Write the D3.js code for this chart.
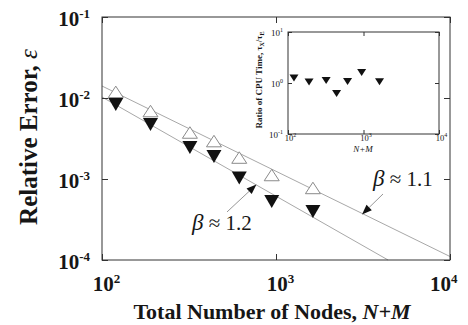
<!DOCTYPE html>
<html><head><meta charset="utf-8">
<script src="https://cdn.jsdelivr.net/npm/d3@7"></script>
<style>
html,body{margin:0;padding:0;background:#fff;}
svg{display:block;font-family:"Liberation Serif","Times New Roman",serif;}
svg text{font-family:"Liberation Serif","Times New Roman",serif;}
</style></head>
<body>
<svg id="chart" width="468" height="325"></svg>
<script>
// ---- data ----
const nodes      = [120, 190, 320, 440, 615, 945, 1630];
const errOpen    = [0.0119, 0.0069, 0.00375, 0.00294, 0.00184, 0.00112, 0.000775];
const errFilled  = [0.0083, 0.0047, 0.00245, 0.0019, 0.00103, 0.000527, 0.000397];
const cpuRatio   = [1.25, 1.05, 1.12, 0.62, 1.07, 1.61, 1.06];
const fitUpperN   = [100, 10000];
const fitUpperErr = [0.01406, 0.0001104];
const fitLowerN   = [100, 4406];
const fitLowerErr = [0.01028, 0.0001];
const mainXExp  = [2, 3, 4];
const mainYExp  = [-1, -2, -3, -4];
const insetXExp = [2, 3, 4];
const insetYExp = [1, 0, -1];
const betaLabels = ["1.1", "1.2"];

// ---- layout ----
const svg = d3.select("#chart");
const ink = "#161616";
const x = d3.scaleLog().domain([1e2, 1e4]).range([102, 450]);
const y = d3.scaleLog().domain([1e-4, 1e-1]).range([260, 17]);
const xi = d3.scaleLog().domain([1e2, 1e4]).range([288, 439]);
const yi = d3.scaleLog().domain([1e-1, 1e1]).range([134, 32]);

function tri(cx, cy, w, h, up) {
  return up
    ? `M${cx - w/2},${cy + h/2}L${cx + w/2},${cy + h/2}L${cx},${cy - h/2}Z`
    : `M${cx - w/2},${cy - h/2}L${cx + w/2},${cy - h/2}L${cx},${cy + h/2}Z`;
}
function supLabel(sel, sfs, sdy) {
  sel.text(null);
  sel.each(function(d) {
    const e = Math.round(Math.log10(d));
    const t = d3.select(this);
    t.append("tspan").text("10");
    t.append("tspan").attr("font-size", sfs).attr("dy", sdy).text(String(e));
  });
}

// fit lines
const line = d3.line().x(d => x(d[0])).y(d => y(d[1]));
svg.append("path").attr("d", line(fitUpperN.map((n, i) => [n, fitUpperErr[i]])))
  .attr("fill", "none").attr("stroke", "#a8a8a8").attr("stroke-width", 1);
svg.append("path").attr("d", line(fitLowerN.map((n, i) => [n, fitLowerErr[i]])))
  .attr("fill", "none").attr("stroke", "#a8a8a8").attr("stroke-width", 1);

// main axes (ticks inward)
const vals = e => e.map(v => Math.pow(10, v));
const gL = svg.append("g").attr("transform", `translate(${x.range()[0]},0)`)
  .call(d3.axisLeft(y).tickValues(vals(mainYExp)).tickSizeInner(-6).tickSizeOuter(0).tickPadding(12));
const gR = svg.append("g").attr("transform", `translate(${x.range()[1]},0)`)
  .call(d3.axisRight(y).tickValues(vals(mainYExp)).tickSizeInner(-6).tickSizeOuter(0).tickFormat(""));
const gB = svg.append("g").attr("transform", `translate(0,${y.range()[0]})`)
  .call(d3.axisBottom(x).tickValues(vals(mainXExp)).tickSizeInner(-6).tickSizeOuter(0).tickPadding(16));
const gT = svg.append("g").attr("transform", `translate(0,${y.range()[1]})`)
  .call(d3.axisTop(x).tickValues(vals(mainXExp)).tickSizeInner(-6).tickSizeOuter(0).tickFormat(""));
[gL, gR, gB, gT].forEach(g => {
  g.attr("font-family", null);
  g.select(".domain").remove();
  g.selectAll("line").attr("stroke", "#333");
});
gL.selectAll("text").attr("font-size", 21).attr("font-weight", "bold").attr("fill", ink)
  .attr("dy", "0.4em").call(supLabel, 13, -8);
gB.selectAll("text").attr("font-size", 21).attr("font-weight", "bold").attr("fill", ink)
  .attr("dx", 4).call(supLabel, 13, -8);
gB.selectAll(".tick").filter(d => d === 1e4).select("text").attr("text-anchor", "end").attr("dx", 7);

svg.append("rect").attr("x", 102).attr("y", 17).attr("width", 348).attr("height", 243)
  .attr("fill", "none").attr("stroke", "#333").attr("stroke-width", 1);

// markers
svg.append("g").selectAll("path").data(nodes).join("path")
  .attr("d", (n, i) => tri(x(n), y(errOpen[i]), 15, 11.5, true))
  .attr("fill", "#fff").attr("stroke", "#8a8a8a").attr("stroke-width", 1);
svg.append("g").selectAll("path").data(nodes).join("path")
  .attr("d", (n, i) => tri(x(n), y(errFilled[i]), 15, 13, false))
  .attr("fill", "#111");

// annotations (arrows)
const arrows = [
  {from: [4121, 6.53e-4], to: [3121, 3.65e-4]},
  {from: [523, 3.92e-4], to: [772, 8.55e-4]}
];
arrows.forEach(a => {
  const x1 = x(a.from[0]), y1 = y(a.from[1]), x2 = x(a.to[0]), y2 = y(a.to[1]);
  const ang = Math.atan2(y2 - y1, x2 - x1), L = 10, W = 3.8;
  const bx = x2 - L * Math.cos(ang), by = y2 - L * Math.sin(ang);
  svg.append("line").attr("x1", x1).attr("y1", y1).attr("x2", bx).attr("y2", by)
    .attr("stroke", "#8a8a8a").attr("stroke-width", 0.9);
  svg.append("path").attr("d",
    `M${x2},${y2}L${bx + W * Math.sin(ang)},${by - W * Math.cos(ang)}L${bx - W * Math.sin(ang)},${by + W * Math.cos(ang)}Z`)
    .attr("fill", "#111");
});
const betaPos = [[373, 186], [192, 230]];
betaLabels.forEach((b, i) => {
  const t = svg.append("text").attr("x", betaPos[i][0]).attr("y", betaPos[i][1])
    .attr("font-size", 21).attr("fill", ink);
  t.append("tspan").attr("font-style", "italic").attr("font-size", 23).text("β");
  t.append("tspan").text(" ≈ " + b);
});

// axis titles
const yt = svg.append("text").attr("transform", "translate(37,137) rotate(-90)")
  .attr("text-anchor", "middle").attr("font-size", 25).attr("font-weight", "bold").attr("fill", ink);
yt.append("tspan").text("Relative Error, ");
yt.append("tspan").attr("font-style", "italic").attr("font-weight", "normal").text("ε");
const xt = svg.append("text").attr("x", 272).attr("y", 319)
  .attr("text-anchor", "middle").attr("font-size", 22).attr("font-weight", "bold").attr("fill", ink);
xt.append("tspan").text("Total Number of Nodes, ");
xt.append("tspan").attr("font-style", "italic").text("N+M");

// ---- inset ----
svg.append("rect").attr("x", 288).attr("y", 32).attr("width", 151).attr("height", 102)
  .attr("fill", "#fff").attr("stroke", "#333").attr("stroke-width", 1);
const iL = svg.append("g").attr("transform", `translate(${xi.range()[0]},0)`)
  .call(d3.axisLeft(yi).tickValues(vals(insetYExp)).tickSizeInner(-4).tickSizeOuter(0).tickPadding(5));
const iR = svg.append("g").attr("transform", `translate(${xi.range()[1]},0)`)
  .call(d3.axisRight(yi).tickValues(vals(insetYExp)).tickSizeInner(-4).tickSizeOuter(0).tickFormat(""));
const iB = svg.append("g").attr("transform", `translate(0,${yi.range()[0]})`)
  .call(d3.axisBottom(xi).tickValues(vals(insetXExp)).tickSizeInner(-4).tickSizeOuter(0).tickPadding(1));
const iT = svg.append("g").attr("transform", `translate(0,${yi.range()[1]})`)
  .call(d3.axisTop(xi).tickValues(vals(insetXExp)).tickSizeInner(-4).tickSizeOuter(0).tickFormat(""));
[iL, iR, iB, iT].forEach(g => {
  g.attr("font-family", null);
  g.select(".domain").remove();
  g.selectAll("line").attr("stroke", "#333");
});
iL.selectAll("text").attr("font-size", 9).attr("fill", ink)
  .attr("dy", "0.35em").call(supLabel, 6, -4);
iB.selectAll("text").attr("font-size", 8.5).attr("fill", ink)
  .attr("dx", 2).call(supLabel, 6, -4);

svg.append("g").selectAll("path").data(nodes).join("path")
  .attr("d", (n, i) => tri(xi(n), yi(cpuRatio[i]), 9, 7, false))
  .attr("fill", "#111");

const it = svg.append("text").attr("transform", "translate(262,80) rotate(-90)")
  .attr("text-anchor", "middle").attr("font-size", 9).attr("font-weight", "bold").attr("fill", ink);
it.append("tspan").text("Ratio of CPU Time, τ");
it.append("tspan").attr("font-size", 6).attr("dy", 2).text("X");
it.append("tspan").attr("dy", -2).text("/τ");
it.append("tspan").attr("font-size", 6).attr("dy", 2).text("E");
svg.append("text").attr("x", 363).attr("y", 151.5).attr("text-anchor", "middle")
  .attr("font-size", 9).attr("font-style", "italic").attr("fill", ink).text("N+M");
</script>
</body></html>
